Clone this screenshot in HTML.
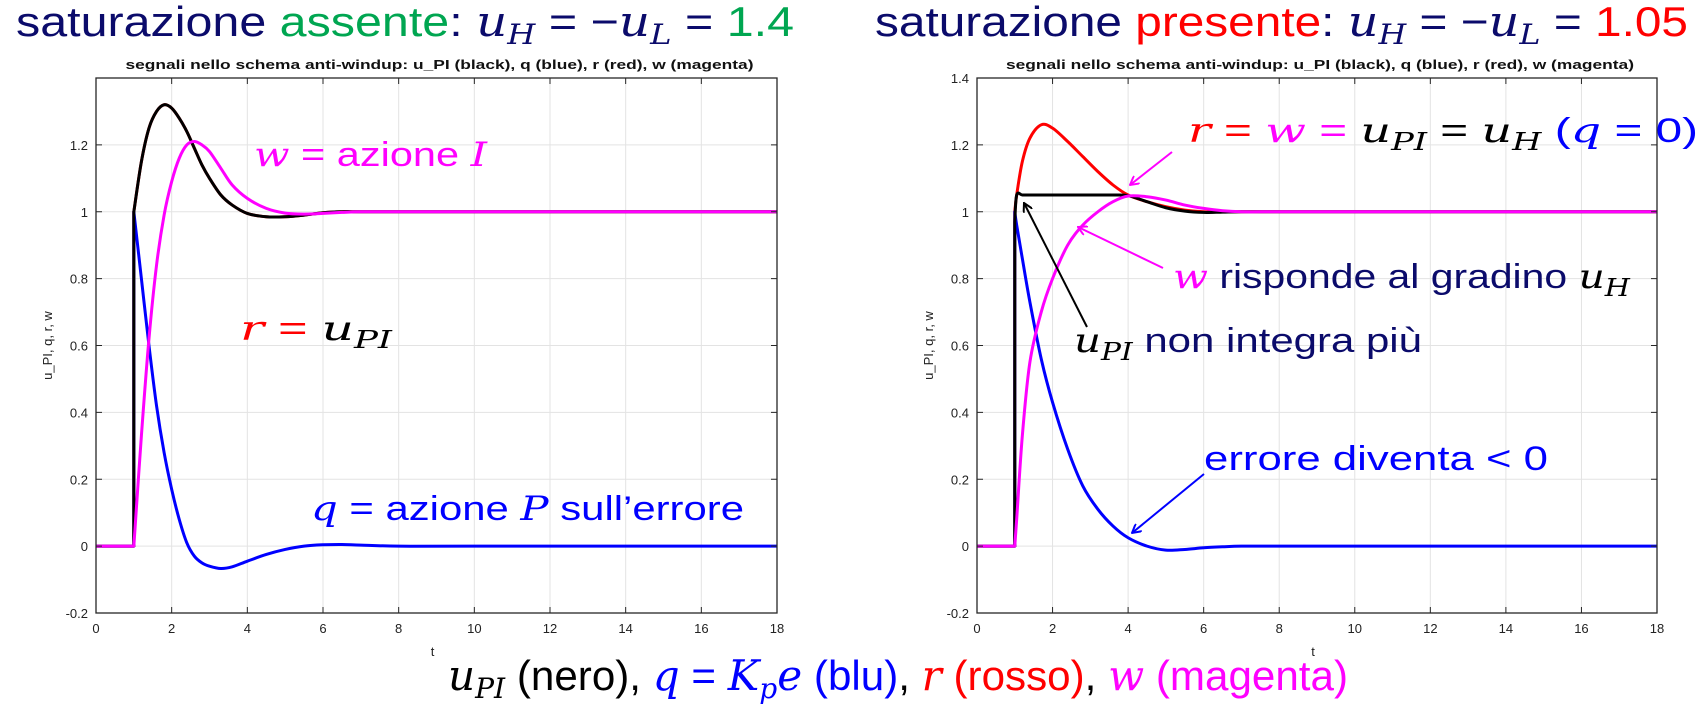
<!DOCTYPE html>
<html><head><meta charset="utf-8"><style>
html,body{margin:0;padding:0;background:#fff;}
svg{display:block;}
.ttl{font-family:"Liberation Sans",sans-serif;font-size:42px;}
.m{font-family:"DejaVu Serif","Liberation Serif",serif;font-style:italic;}
.tk{font-family:"Liberation Sans",sans-serif;font-size:13px;fill:#222;}
.sub{font-family:"Liberation Sans",sans-serif;font-size:13px;font-weight:bold;fill:#111;}
.ann{font-family:"Liberation Sans",sans-serif;font-size:34px;}
</style></head><body>
<svg id="root" width="1708" height="713" viewBox="0 0 1708 713" xmlns="http://www.w3.org/2000/svg">
<defs>
<marker id="ah-m" markerWidth="10" markerHeight="10" refX="9" refY="5" orient="auto" markerUnits="userSpaceOnUse"><path d="M0,0 L9,5 L0,10" fill="none" stroke="#ff00ff" stroke-width="2"/></marker>
<marker id="ah-k" markerWidth="10" markerHeight="10" refX="9" refY="5" orient="auto" markerUnits="userSpaceOnUse"><path d="M0,0 L9,5 L0,10" fill="none" stroke="#000" stroke-width="2"/></marker>
<marker id="ah-b" markerWidth="10" markerHeight="10" refX="9" refY="5" orient="auto" markerUnits="userSpaceOnUse"><path d="M0,0 L9,5 L0,10" fill="none" stroke="#0000ff" stroke-width="2"/></marker>
</defs>
<text class="ttl" x="16" y="36" textLength="778" lengthAdjust="spacingAndGlyphs"><tspan fill="#0b0b6b">saturazione </tspan><tspan fill="#00a651">assente</tspan><tspan fill="#0b0b6b">: </tspan><tspan class="m" fill="#0b0b6b">u</tspan><tspan class="m" fill="#0b0b6b" font-size="28" dy="8">H</tspan><tspan fill="#0b0b6b" dy="-8"> = −</tspan><tspan class="m" fill="#0b0b6b">u</tspan><tspan class="m" fill="#0b0b6b" font-size="28" dy="8">L</tspan><tspan fill="#0b0b6b" dy="-8"> = </tspan><tspan fill="#00a651">1.4</tspan></text>
<text class="ttl" x="875" y="36" textLength="813" lengthAdjust="spacingAndGlyphs"><tspan fill="#0b0b6b">saturazione </tspan><tspan fill="#ff0000">presente</tspan><tspan fill="#0b0b6b">: </tspan><tspan class="m" fill="#0b0b6b">u</tspan><tspan class="m" fill="#0b0b6b" font-size="28" dy="8">H</tspan><tspan fill="#0b0b6b" dy="-8"> = −</tspan><tspan class="m" fill="#0b0b6b">u</tspan><tspan class="m" fill="#0b0b6b" font-size="28" dy="8">L</tspan><tspan fill="#0b0b6b" dy="-8"> = </tspan><tspan fill="#ff0000">1.05</tspan></text>
<text class="ttl" x="448" y="690" textLength="900" lengthAdjust="spacingAndGlyphs"><tspan class="m" fill="#000">u</tspan><tspan class="m" font-size="28" dy="8" fill="#000">PI</tspan><tspan dy="-8" fill="#000"> (nero), </tspan><tspan class="m" fill="#0000ff">q</tspan><tspan fill="#0000ff"> = </tspan><tspan class="m" fill="#0000ff">K</tspan><tspan class="m" font-size="28" dy="8" fill="#0000ff">p</tspan><tspan class="m" dy="-8" fill="#0000ff">e</tspan><tspan fill="#0000ff"> (blu)</tspan><tspan fill="#000">, </tspan><tspan class="m" fill="#ff0000">r</tspan><tspan fill="#ff0000"> (rosso)</tspan><tspan fill="#000">, </tspan><tspan class="m" fill="#ff00ff">w</tspan><tspan fill="#ff00ff"> (magenta)</tspan></text>
<g id="plots"></g>
<g id="annotations">
<text class="ann" x="254" y="166" fill="#ff00ff" textLength="233" lengthAdjust="spacingAndGlyphs"><tspan class="m">w</tspan> = azione <tspan class="m">I</tspan></text>
<text class="ann" x="240" y="340" textLength="152" lengthAdjust="spacingAndGlyphs"><tspan class="m" fill="#ff0000">r</tspan><tspan fill="#ff0000"> = </tspan><tspan class="m" fill="#000"> u</tspan><tspan class="m" fill="#000" font-size="24" dy="8">PI</tspan></text>
<text class="ann" x="311" y="520" fill="#0000ff" textLength="433" lengthAdjust="spacingAndGlyphs"><tspan class="m">q</tspan> = azione <tspan class="m">P</tspan> sull’errore</text>
<text class="ann" x="1188" y="142" textLength="510" lengthAdjust="spacingAndGlyphs"><tspan class="m" fill="#ff0000">r</tspan><tspan fill="#ff0000"> = </tspan><tspan class="m" fill="#ff00ff">w</tspan><tspan fill="#ff00ff"> = </tspan><tspan class="m" fill="#000">u</tspan><tspan class="m" fill="#000" font-size="24" dy="8">PI</tspan><tspan fill="#000" dy="-8"> = </tspan><tspan class="m" fill="#000">u</tspan><tspan class="m" fill="#000" font-size="24" dy="8">H</tspan><tspan fill="#0000ff" dy="-8"> (</tspan><tspan class="m" fill="#0000ff">q</tspan><tspan fill="#0000ff"> = 0)</tspan></text>
<text class="ann" x="1173" y="288" textLength="457" lengthAdjust="spacingAndGlyphs"><tspan class="m" fill="#ff00ff">w</tspan><tspan fill="#0b0b6b"> risponde al gradino </tspan><tspan class="m" fill="#000">u</tspan><tspan class="m" fill="#000" font-size="24" dy="8">H</tspan></text>
<text class="ann" x="1074" y="352" textLength="348" lengthAdjust="spacingAndGlyphs"><tspan class="m" fill="#000">u</tspan><tspan class="m" fill="#000" font-size="24" dy="8">PI</tspan><tspan fill="#0b0b6b" dy="-8"> non integra più</tspan></text>
<text class="ann" x="1204" y="470" fill="#0000ff" textLength="344" lengthAdjust="spacingAndGlyphs">errore diventa &lt; 0</text>
<line x1="1172" y1="152" x2="1130" y2="185" stroke="#ff00ff" stroke-width="2" marker-end="url(#ah-m)"/>
<line x1="1163" y1="268" x2="1078" y2="227" stroke="#ff00ff" stroke-width="2" marker-end="url(#ah-m)"/>
<line x1="1087" y1="327" x2="1024" y2="203" stroke="#000" stroke-width="2" marker-end="url(#ah-k)"/>
<line x1="1204" y1="474" x2="1132" y2="533" stroke="#0000ff" stroke-width="2" marker-end="url(#ah-b)"/>
</g>
</svg>
<script>
const xTicks = [0,2,4,6,8,10,12,14,16,18];
const yTicksLeft = [-0.2,0,0.2,0.4,0.6,0.8,1,1.2];
const yTicksRight = [-0.2,0,0.2,0.4,0.6,0.8,1,1.2,1.4];
const yTickLabelsLeft = ["-0.2","0","0.2","0.4","0.6","0.8","1","1.2"];
const yTickLabelsRight = ["-0.2","0","0.2","0.4","0.6","0.8","1","1.2","1.4"];

const L_t   = [0,1,1,1.2,1.4,1.6,1.8,2.0,2.2,2.4,2.6,2.8,3.0,3.3,3.6,4.0,4.5,5.0,5.5,6.0,6.5,7.0,8,10,18];
const L_upi = [0,0,1,1.15,1.25,1.30,1.32,1.31,1.28,1.24,1.19,1.14,1.10,1.05,1.02,0.995,0.985,0.985,0.99,0.997,1.0,1.0,1,1,1];
const L_r   = [0,0,1,1.15,1.25,1.30,1.32,1.31,1.28,1.24,1.19,1.14,1.10,1.05,1.02,0.995,0.985,0.985,0.99,0.997,1.0,1.0,1,1,1];
const L_q   = [0,0,1,0.80,0.60,0.42,0.28,0.17,0.08,0.01,-0.03,-0.05,-0.06,-0.067,-0.062,-0.045,-0.025,-0.01,0,0.004,0.005,0.003,0,0,0];
const L_w   = [0,0,0,0.33,0.62,0.84,0.99,1.09,1.16,1.20,1.21,1.20,1.18,1.13,1.08,1.04,1.01,0.996,0.993,0.995,0.998,1.0,1,1,1];

const R_t   = [0,1,1,1.05,1.2,1.4,1.7,2.0,2.4,2.8,3.2,3.6,4.0,4.5,5.0,5.5,6.0,6.5,7.0,8,10,18];
const R_upi = [0,0,0.97,1.05,1.05,1.05,1.05,1.05,1.05,1.05,1.05,1.05,1.048,1.03,1.012,1.002,0.998,0.999,1,1,1,1];
const R_r   = [0,0,1,1.05,1.15,1.22,1.26,1.25,1.21,1.165,1.12,1.08,1.05,1.03,1.015,1.005,1.0,1.0,1,1,1,1];
const R_q   = [0,0,1,0.96,0.86,0.73,0.56,0.43,0.29,0.18,0.11,0.06,0.025,0.0,-0.012,-0.01,-0.005,-0.002,0,0,0,0];
const R_w   = [0,0,0,0.08,0.33,0.55,0.70,0.80,0.90,0.96,1.0,1.03,1.047,1.045,1.035,1.02,1.01,1.003,1.0,1,1,1];

const NS='http://www.w3.org/2000/svg';
const plots=document.getElementById('plots');
function mk(tag,attrs,parent){const e=document.createElementNS(NS,tag);for(const k in attrs)e.setAttribute(k,attrs[k]);parent.appendChild(e);return e;}

function drawPlot(opt){
  const g=mk('g',{},plots);
  
  
  const x0=opt.left,x1=opt.right,yTop=78,yBot=613,ymin=-0.2,ymax=1.4;
  const sx=t=>x0+(t-0)/(18-0)*(x1-x0);
  const sy=v=>yBot-(v-ymin)/(ymax-ymin)*(yBot-yTop);
  xTicks.forEach(t=>{const l=mk('line',{x1:sx(t),x2:sx(t),y1:yTop,y2:yBot,stroke:'#e3e3e3','stroke-width':1},g);
    
    });
  opt.yTicks.forEach(v=>{const l=mk('line',{x1:x0,x2:x1,y1:sy(v),y2:sy(v),stroke:'#e3e3e3','stroke-width':1},g);
    
    });
  function line(ts,vs,color,name){
    let d='';
    for(let i=0;i<ts.length;i++){
      const px=sx(ts[i]),py=sy(vs[i]);
      if(i===0){d+='M'+px.toFixed(2)+','+py.toFixed(2);continue;}
      const isJump = ts[i]===ts[i-1];
      const p0i=Math.max(0,i-2), p1i=i-1, p3i=Math.min(ts.length-1,i+1);
      const segStart = (i>=2 && ts[i-1]===ts[i-2]);
      const segEnd = (i+1<ts.length && ts[i+1]===ts[i]);
      if(isJump || ts[i-1]<=1 && ts[i]<=1){d+='L'+px.toFixed(2)+','+py.toFixed(2);continue;}
      const P0=segStart||i<2?[sx(ts[p1i]),sy(vs[p1i])]:[sx(ts[p0i]),sy(vs[p0i])];
      const P1=[sx(ts[p1i]),sy(vs[p1i])],P2=[px,py];
      const P3=segEnd?P2:[sx(ts[p3i]),sy(vs[p3i])];
      const c1=[P1[0]+(P2[0]-P0[0])/6,P1[1]+(P2[1]-P0[1])/6];
      const c2=[P2[0]-(P3[0]-P1[0])/6,P2[1]-(P3[1]-P1[1])/6];
      d+='C'+c1[0].toFixed(2)+','+c1[1].toFixed(2)+' '+c2[0].toFixed(2)+','+c2[1].toFixed(2)+' '+P2[0].toFixed(2)+','+P2[1].toFixed(2);
    }
    const p=mk('path',{d:d,fill:'none',stroke:color,'stroke-width':3,'stroke-linejoin':'round'},g);
    
    
  }
  line(opt.t,opt.r,'#ff0000',opt.prefix+'-r-line');
  line(opt.t,opt.q,'#0000ff',opt.prefix+'-q-line');
  line(opt.t,opt.upi,'#000000',opt.prefix+'-upi-line');
  line(opt.t,opt.w,'#ff00ff',opt.prefix+'-w-line');
  const box=mk('rect',{x:x0,y:yTop,width:x1-x0,height:yBot-yTop,fill:'none',stroke:'#262626','stroke-width':1.3},g);
  
  
  xTicks.forEach(t=>{
    mk('line',{x1:sx(t),x2:sx(t),y1:yBot,y2:yBot-6,stroke:'#262626'},g);
    mk('line',{x1:sx(t),x2:sx(t),y1:yTop,y2:yTop+6,stroke:'#262626'},g);
    const tx=mk('text',{x:sx(t),y:yBot+20,'text-anchor':'middle',class:'tk'},g);
    tx.textContent=String(t);
    
    
  });
  opt.yTicks.forEach((v,i)=>{
    mk('line',{x1:x0,x2:x0+6,y1:sy(v),y2:sy(v),stroke:'#262626'},g);
    mk('line',{x1:x1,x2:x1-6,y1:sy(v),y2:sy(v),stroke:'#262626'},g);
    const tx=mk('text',{x:x0-8,y:sy(v)+5,'text-anchor':'end',class:'tk'},g);
    tx.textContent=opt.yLabels[i];
    
    
  });
  const xl=mk('text',{x:(x0+x1)/2-4,y:656,'text-anchor':'middle',class:'tk'},g);
  xl.textContent='t';
  
  
  const yl=mk('text',{x:0,y:0,'text-anchor':'middle',class:'tk',transform:'translate('+(x0-44)+','+((yTop+yBot)/2)+') rotate(-90)'},g);
  yl.textContent='u_PI, q, r, w';
  
  
  const st=mk('text',{x:(x0+x1)/2+3,y:69,'text-anchor':'middle',class:'sub',textLength:628,lengthAdjust:'spacingAndGlyphs'},g);
  st.textContent='segnali nello schema anti-windup: u_PI (black), q (blue), r (red), w (magenta)';
  
  
}
drawPlot({name:'left-chart',prefix:'left',left:96,right:777,t:L_t,upi:L_upi,r:L_r,q:L_q,w:L_w,yTicks:yTicksLeft,yLabels:yTickLabelsLeft});
drawPlot({name:'right-chart',prefix:'right',left:977,right:1657,t:R_t,upi:R_upi,r:R_r,q:R_q,w:R_w,yTicks:yTicksRight,yLabels:yTickLabelsRight});
document.getElementById('root').appendChild(document.getElementById('annotations'));
</script>
</body></html>
